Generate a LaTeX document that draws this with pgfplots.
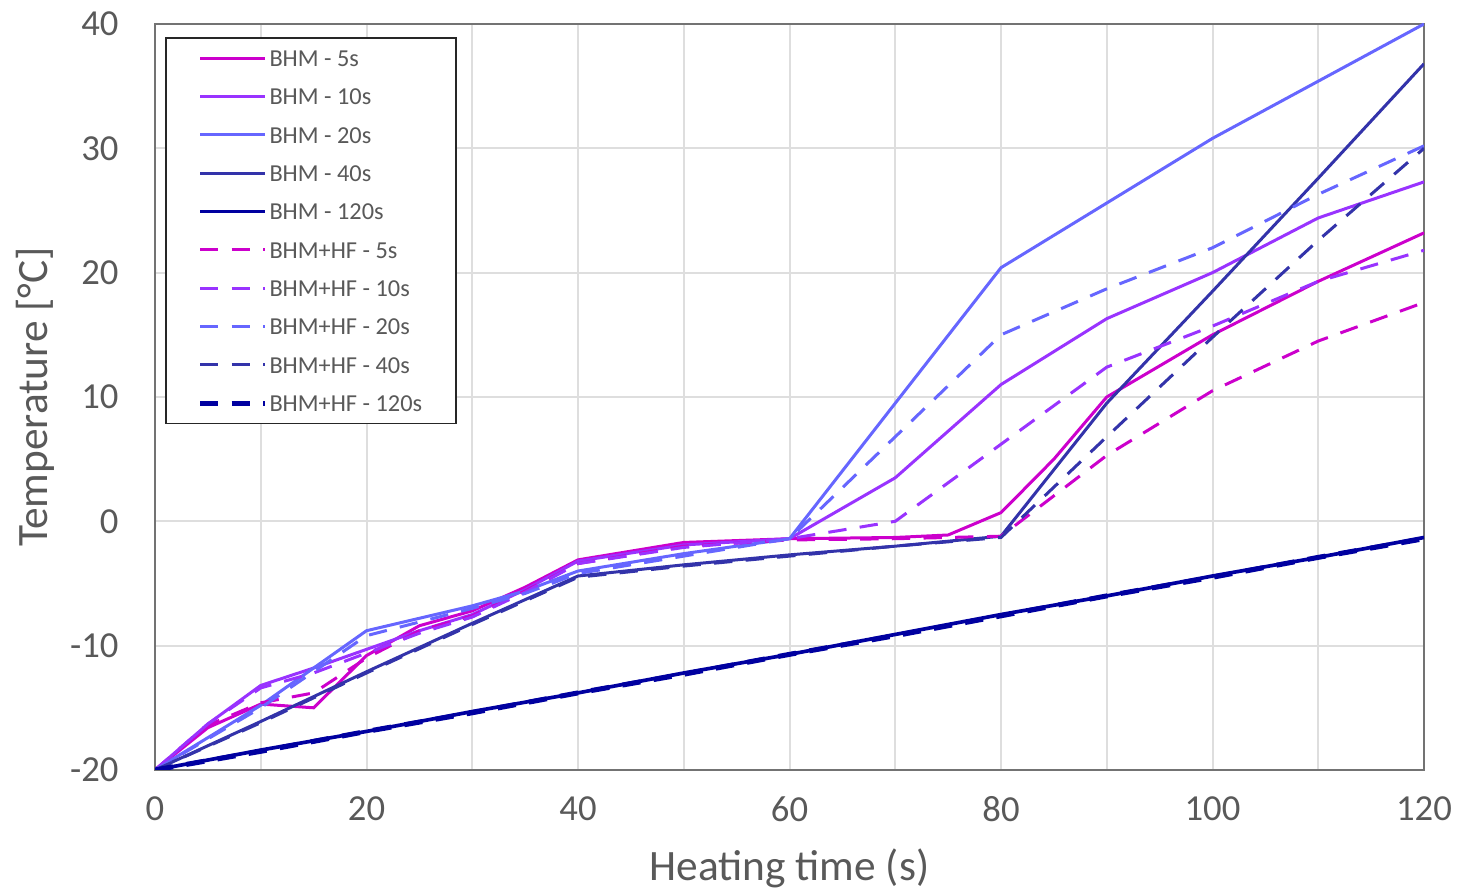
\documentclass[border=0pt]{standalone}
\usepackage{fontspec}
\setmainfont{Carlito}
\usepackage{pgfplots}
\usepackage{pgfplotstable}
\pgfplotsset{compat=1.18}
\definecolor{cA}{RGB}{204,0,204}
\definecolor{cB}{RGB}{153,51,255}
\definecolor{cC}{RGB}{102,102,255}
\definecolor{cD}{RGB}{51,51,170}
\definecolor{cE}{RGB}{0,0,160}
\definecolor{txt}{RGB}{89,89,89}
\definecolor{grd}{RGB}{222,222,222}

\pgfplotstableread{
t T
0 -20
5 -16.6
10 -14.7
15 -15.0
20 -10.8
25 -8.4
30 -7.2
35 -5.3
40 -3.1
50 -1.7
60 -1.4
70 -1.3
75 -1.1
80 0.7
85 5.0
90 10.0
100 15.0
110 19.3
120 23.2
}\bhmA
\pgfplotstableread{
t T
0 -20
5 -16.3
10 -13.2
15 -11.8
20 -10.3
25 -8.8
30 -7.5
35 -5.5
40 -3.2
50 -1.9
60 -1.4
70 3.5
80 11.0
90 16.3
100 20.0
110 24.4
120 27.3
}\bhmB
\pgfplotstableread{
t T
0 -20
10 -14.8
20 -8.8
30 -6.8
35 -5.6
40 -4.0
50 -2.6
60 -1.4
80 20.4
100 30.8
120 40.0
}\bhmC
\pgfplotstableread{
t T
0 -20
10 -16.1
20 -12.1
30 -8.2
40 -4.4
50 -3.5
60 -2.7
70 -2.0
80 -1.2
90 9.5
100 18.5
110 27.6
120 36.8
}\bhmD
\pgfplotstableread{
t T
0 -20
10 -18.4
20 -16.9
30 -15.3
40 -13.8
50 -12.2
60 -10.7
70 -9.1
80 -7.5
90 -6.0
100 -4.4
110 -2.9
120 -1.3
}\bhmE
\pgfplotstableread{
t T
0 -20
5 -16.4
10 -14.6
15 -13.8
20 -11.0
25 -8.8
30 -7.6
35 -5.6
40 -3.4
50 -2.0
60 -1.5
70 -1.4
80 -1.2
90 5.3
100 10.5
110 14.5
120 17.6
}\hfA
\pgfplotstableread{
t T
0 -20
5 -16.3
10 -13.4
15 -12.2
20 -10.6
25 -9.0
30 -7.7
35 -5.7
40 -3.4
50 -2.1
60 -1.4
70 0.0
80 6.2
90 12.4
100 15.7
110 19.3
120 21.8
}\hfB
\pgfplotstableread{
t T
0 -20
10 -15.0
20 -9.2
30 -7.0
35 -5.8
40 -4.2
50 -2.8
60 -1.4
70 6.8
80 15.0
90 18.7
100 22.0
110 26.3
120 30.2
}\hfC
\pgfplotstableread{
t T
0 -20
10 -16.2
20 -12.2
30 -8.3
40 -4.5
50 -3.6
60 -2.8
70 -2.0
80 -1.3
90 6.8
100 14.8
110 22.6
120 30.0
}\hfD
\pgfplotstableread{
t T
0 -20
10 -18.5
20 -16.9
30 -15.4
40 -13.8
50 -12.3
60 -10.7
70 -9.2
80 -7.6
90 -6.0
100 -4.5
110 -2.9
120 -1.4
}\hfE

\begin{document}
\begin{tikzpicture}
\begin{axis}[
  scale only axis,
  width=380.7pt, height=223.8pt,
  xmin=0, xmax=120, ymin=-20, ymax=40,
  xtick={0,20,...,120},
  minor xtick={10,30,...,110},
  ytick={-20,-10,...,40},
  grid=both,
  major grid style={draw=grd, line width=0.6pt},
  minor grid style={draw=grd, line width=0.6pt},
  major tick length=0pt, minor tick length=0pt,
  axis line style={draw=black!55, line width=0.7pt},
  /pgf/number format/assume math mode=true,
  ticklabel style={font=\fontsize{11}{13}\selectfont, text=txt},
  xticklabel style={yshift=-4.4pt, inner xsep=1pt},
  yticklabel style={xshift=-7.4pt},
  label style={font=\fontsize{13}{15}\selectfont, text=txt},
  xlabel={Heating time (s)},
  ylabel={Temperature [°C]},
  xlabel style={at={(axis description cs:0.5,-0.1314)}, anchor=center, inner sep=0pt},
  ylabel style={at={(axis description cs:-0.0946,0.5)}, anchor=center, inner sep=0pt},
  legend cell align=left,
  legend style={at={(0,1)}, anchor=north west, xshift=3pt, yshift=-3.9pt,
    draw=black!85, line width=0.5pt, fill=white,
    font=\fontsize{7.3}{8}\selectfont, text=txt,
    inner xsep=9.5pt, inner ysep=3pt, row sep=5.3pt,
    nodes={inner sep=0.6pt, text height=5pt, text depth=0pt}},
  legend image code/.code={\draw[#1] (0pt,0pt) -- (19.5pt,0pt);},
  every axis plot/.append style={line width=0.9pt},
]
\addplot[cA] table[x=t,y=T]{\bhmA};
\addlegendentry{BHM - 5s}
\addplot[cB] table[x=t,y=T]{\bhmB};
\addlegendentry{BHM - 10s}
\addplot[cC] table[x=t,y=T]{\bhmC};
\addlegendentry{BHM - 20s}
\addplot[cD] table[x=t,y=T]{\bhmD};
\addlegendentry{BHM - 40s}
\addplot[cE, line width=1.1pt] table[x=t,y=T]{\bhmE};
\addlegendentry{BHM - 120s}
\addplot[cA, dash pattern=on 5.5pt off 4pt] table[x=t,y=T]{\hfA};
\addlegendentry{BHM+HF - 5s}
\addplot[cB, dash pattern=on 5.5pt off 4pt] table[x=t,y=T]{\hfB};
\addlegendentry{BHM+HF - 10s}
\addplot[cC, dash pattern=on 5.5pt off 4pt] table[x=t,y=T]{\hfC};
\addlegendentry{BHM+HF - 20s}
\addplot[cD, dash pattern=on 5.5pt off 4pt] table[x=t,y=T]{\hfD};
\addlegendentry{BHM+HF - 40s}
\addplot[cE, line width=1.5pt, dash pattern=on 5.5pt off 4pt] table[x=t,y=T]{\hfE};
\addlegendentry{BHM+HF - 120s}
\end{axis}
\path ([xshift=-46.5pt,yshift=-36.3pt]current axis.south west)
      ([xshift=10.5pt,yshift=7.2pt]current axis.north east);
\end{tikzpicture}
\end{document}
